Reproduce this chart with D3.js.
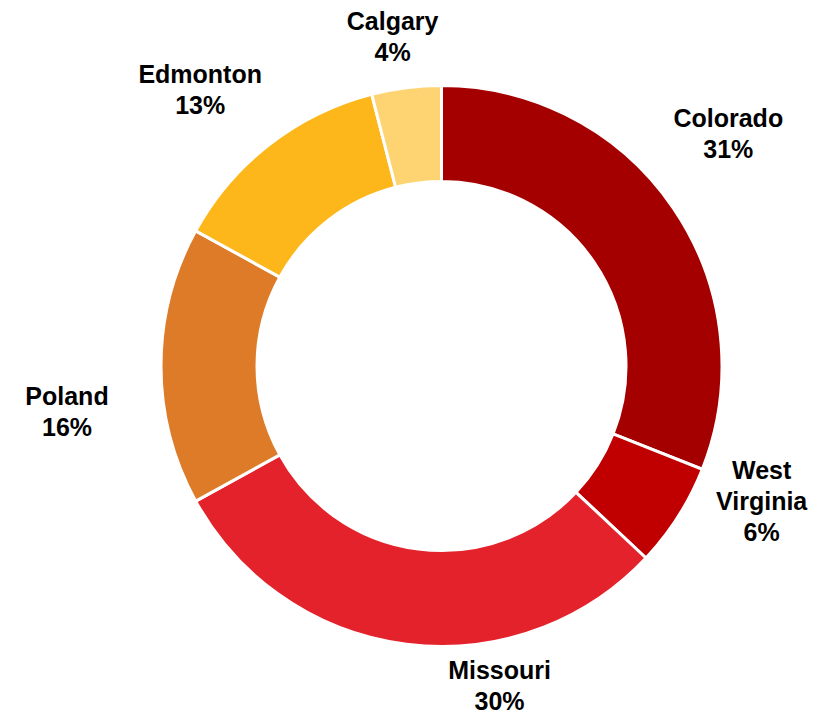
<!DOCTYPE html>
<html>
<head>
<meta charset="utf-8">
<script src="https://cdn.jsdelivr.net/npm/d3@7"></script>
<style>
  html, body { margin: 0; padding: 0; background: #ffffff; }
  svg { display: block; }
  text { font-family: "Liberation Sans", Arial, sans-serif; font-weight: bold; fill: #000; }
</style>
</head>
<body>
<svg id="chart" width="826" height="714"></svg>
<script>
// Share of output by site (percent)
const sites = ["Colorado", "West Virginia", "Missouri", "Poland", "Edmonton", "Calgary"];
const shares = [31, 6, 30, 16, 13, 4];
const colors = ["#A40000", "#C00000", "#E3222B", "#DD7B28", "#FDB71A", "#FED473"];

// Label lines per site (names wrap like the data labels)
const labelLines = [["Colorado"], ["West", "Virginia"], ["Missouri"], ["Poland"], ["Edmonton"], ["Calgary"]];
// Label nudges from the mid-angle anchor point (dx, dy of first baseline)
const labelNudge = [[30, -64], [58, -53], [97, 5], [-64, 39], [-51, -38], [-10, -27.5]];

const width = 826, height = 714;
const cx = 441.5, cy = 366;
const outerR = 280.5, innerR = 184.5;
const lineH = 31;

const svg = d3.select("#chart");
const g = svg.append("g").attr("transform", `translate(${cx},${cy})`);

const data = sites.map((s, i) => ({ site: s, value: shares[i], i }));

const pie = d3.pie().value(d => d.value).sort(null);
const arc = d3.arc().innerRadius(innerR).outerRadius(outerR);
const color = d3.scaleOrdinal().domain(sites).range(colors);

const arcs = pie(data);

g.selectAll("path.slice")
  .data(arcs)
  .join("path")
  .attr("class", "slice")
  .attr("d", arc)
  .attr("fill", d => color(d.data.site))
  .attr("stroke", "#ffffff")
  .attr("stroke-width", 3)
  .attr("stroke-linejoin", "miter");

// Data labels: name + percentage, anchored outside the ring at the mid-angle
const labelR = outerR + 30;
const labels = g.selectAll("text.label")
  .data(arcs)
  .join("text")
  .attr("class", "label")
  .attr("text-anchor", "middle")
  .style("font-size", "25px");

labels.each(function(d) {
  const mid = (d.startAngle + d.endAngle) / 2;
  const nx = labelNudge[d.data.i][0], ny = labelNudge[d.data.i][1];
  const x = Math.sin(mid) * labelR + nx;
  const y = -Math.cos(mid) * labelR + ny;
  const lines = labelLines[d.data.i].concat([d.data.value + "%"]);
  const t = d3.select(this);
  lines.forEach((ln, k) => {
    t.append("tspan").attr("x", x).attr("y", y + k * lineH).text(ln);
  });
});
</script>
</body>
</html>
